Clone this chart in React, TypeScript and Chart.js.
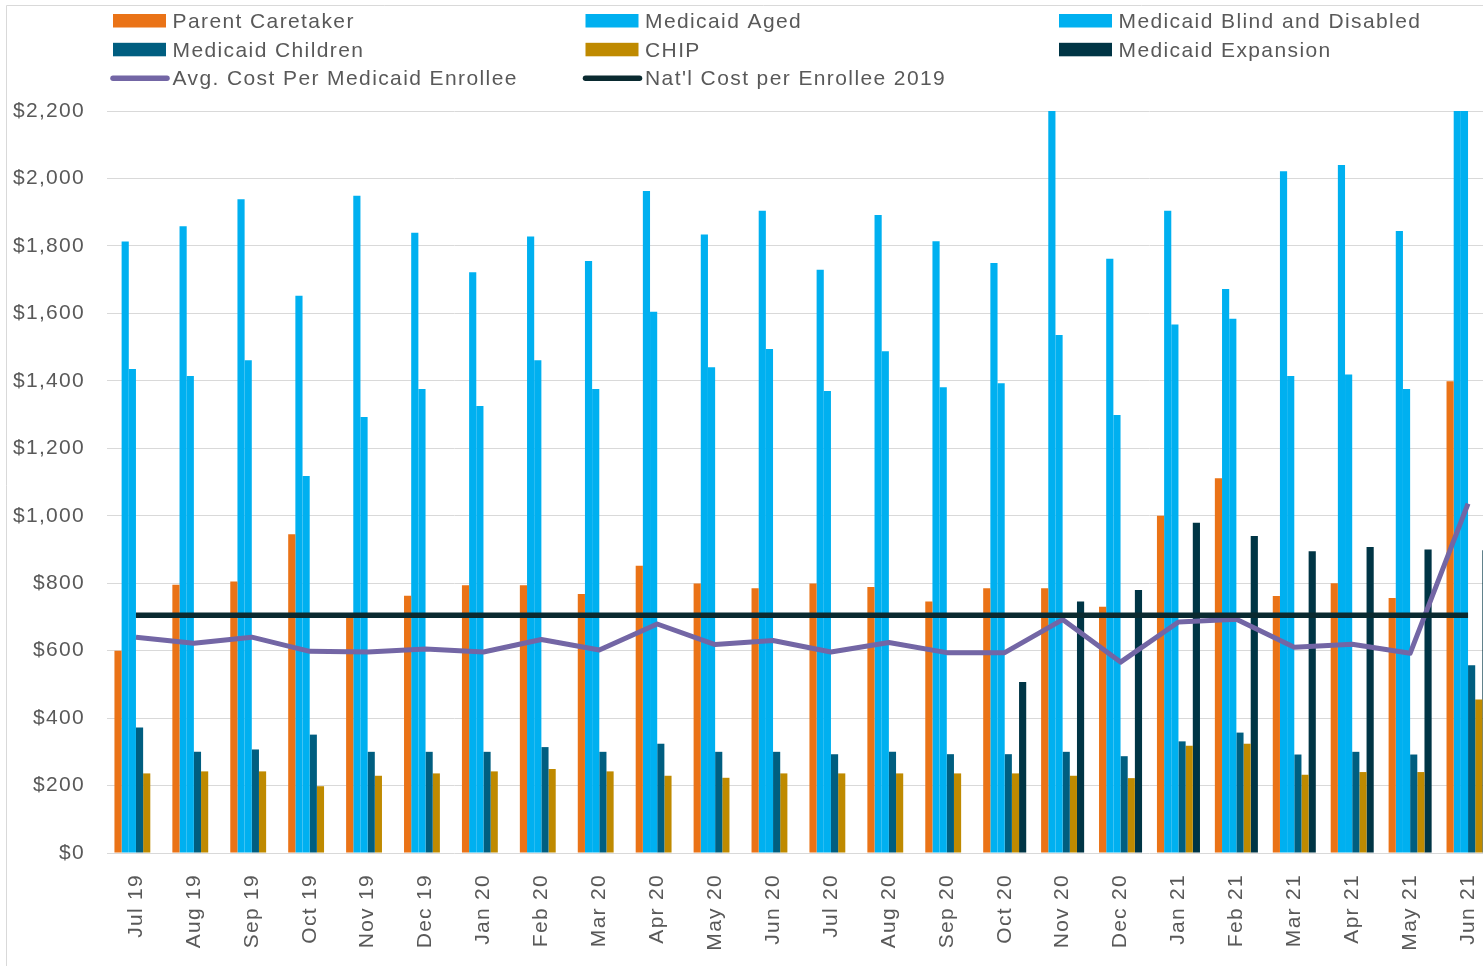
import React, { useEffect, useRef } from 'react';
import { Chart, registerables } from 'chart.js';

Chart.register(...registerables);

const categories = [
  'Jul 19', 'Aug 19', 'Sep 19', 'Oct 19', 'Nov 19', 'Dec 19',
  'Jan 20', 'Feb 20', 'Mar 20', 'Apr 20', 'May 20', 'Jun 20',
  'Jul 20', 'Aug 20', 'Sep 20', 'Oct 20', 'Nov 20', 'Dec 20',
  'Jan 21', 'Feb 21', 'Mar 21', 'Apr 21', 'May 21', 'Jun 21',
];

const parentCaretaker = [600, 795, 805, 945, 700, 763, 794, 794, 768, 852, 799, 785, 799, 789, 746, 785, 785, 730, 1000, 1111, 762, 800, 756, 1399];
const medicaidAged = [1813, 1858, 1938, 1652, 1949, 1839, 1722, 1828, 1755, 1963, 1834, 1904, 1729, 1892, 1814, 1749, 2260, 1762, 1904, 1672, 2021, 2040, 1844, 2300];
const blindDisabled = [1435, 1414, 1461, 1118, 1293, 1376, 1325, 1461, 1376, 1605, 1440, 1494, 1370, 1488, 1381, 1393, 1536, 1299, 1567, 1584, 1414, 1419, 1376, 2250];
const medicaidChildren = [372, 300, 307, 351, 300, 300, 300, 314, 300, 324, 300, 300, 293, 300, 293, 293, 300, 287, 331, 357, 292, 300, 292, 557];
const chip = [236, 242, 242, 198, 229, 236, 242, 249, 242, 229, 223, 236, 236, 236, 236, 236, 229, 222, 318, 324, 232, 240, 240, 455];
const medicaidExpansion = [null, null, null, null, null, null, null, null, null, null, null, null, null, null, null, 507, 746, 780, 979, 940, 895, 907, 900, 898];
const avgCost = [640, 622, 640, 598, 596, 605, 596, 633, 602, 679, 618, 630, 596, 624, 594, 594, 692, 566, 685, 693, 610, 619, 592, 1036];
const natlCost = [705, 705, 705, 705, 705, 705, 705, 705, 705, 705, 705, 705, 705, 705, 705, 705, 705, 705, 705, 705, 705, 705, 705, 705];

const Y_MIN = 0;
const Y_MAX = 2200;
const Y_STEP = 200;

const W = 1520;
const H = 966;
const FONT_FAMILY = '"Liberation Sans", Arial, sans-serif';
const TEXT_COLOR = '#595959';

const spacingPlugin = {
  id: 'spacing',
  beforeDraw(chart: any) {
    const ctx = chart.ctx;
    ctx.letterSpacing = '1.3px';
    ctx.save();
    ctx.strokeStyle = '#d9d9d9';
    ctx.lineWidth = 1;
    ctx.beginPath();
    ctx.moveTo(6.5, H);
    ctx.lineTo(6.5, 5.5);
    ctx.lineTo(W, 5.5);
    ctx.stroke();
    ctx.restore();
  },
};

const legendPlugin = {
  id: 'gridLegend',
  afterDraw(chart: any) {
    const ctx = chart.ctx;
    const cols = [113, 585.5, 1059];
    const rows = [20.7, 49.5, 78.3];
    chart.data.datasets.forEach((ds: any, i: number) => {
      const x0 = cols[i % 3];
      const cy = rows[Math.floor(i / 3)];
      ctx.save();
      if (ds.type === 'line') {
        ctx.strokeStyle = ds.borderColor;
        ctx.lineWidth = 5.5;
        ctx.lineCap = 'round';
        ctx.beginPath();
        ctx.moveTo(x0, cy);
        ctx.lineTo(x0 + 54, cy);
        ctx.stroke();
      } else {
        ctx.fillStyle = ds.backgroundColor;
        ctx.fillRect(x0, cy - 6.7, 53, 13.5);
      }
      ctx.letterSpacing = '1.4px';
      ctx.fillStyle = TEXT_COLOR;
      ctx.font = `21px ${FONT_FAMILY}`;
      ctx.textAlign = 'left';
      ctx.textBaseline = 'alphabetic';
      ctx.fillText(ds.label, x0 + 59.5, cy + 7);
      ctx.restore();
    });
  },
};

function barSet(label: string, data: (number | null)[], color: string) {
  return {
    type: 'bar' as const,
    label,
    data,
    backgroundColor: color,
    borderWidth: 0,
    order: 3,
    categoryPercentage: 0.743,
    barPercentage: 1.0,
  };
}

export default function App() {
  const canvasRef = useRef<HTMLCanvasElement | null>(null);

  useEffect(() => {
    if (!canvasRef.current) return;
    const font = { family: FONT_FAMILY, size: 21 };
    const chart = new Chart(canvasRef.current, {
      type: 'bar',
      data: {
        labels: categories,
        datasets: [
          barSet('Parent Caretaker', parentCaretaker, '#EA7317'),
          barSet('Medicaid Aged', medicaidAged, '#00B0F0'),
          barSet('Medicaid Blind and Disabled', blindDisabled, '#00B0F0'),
          barSet('Medicaid Children', medicaidChildren, '#005E80'),
          barSet('CHIP', chip, '#BF8A00'),
          barSet('Medicaid Expansion', medicaidExpansion, '#003545'),
          {
            type: 'line' as const,
            label: 'Avg. Cost Per Medicaid Enrollee',
            data: avgCost,
            borderColor: '#7366A5',
            backgroundColor: '#7366A5',
            borderWidth: 5,
            borderJoinStyle: 'round',
            pointRadius: 0,
            tension: 0,
            order: 1,
          },
          {
            type: 'line' as const,
            label: "Nat'l Cost per Enrollee 2019",
            data: natlCost,
            borderColor: '#0A2A30',
            backgroundColor: '#0A2A30',
            borderWidth: 5.5,
            pointRadius: 0,
            tension: 0,
            order: 0,
          },
        ] as any,
      },
      options: {
        responsive: false,
        animation: false,
        layout: { padding: { left: 0, right: W - 1497, top: 111, bottom: 0 } },
        plugins: {
          legend: { display: false },
          tooltip: { enabled: false },
        },
        scales: {
          x: {
            grid: { display: false },
            border: { display: false },
            ticks: {
              autoSkip: false,
              minRotation: 90,
              maxRotation: 90,
              padding: 13,
              font,
              color: TEXT_COLOR,
            },
            afterFit: (s: any) => {
              s.height = H - 853;
            },
          },
          y: {
            min: Y_MIN,
            max: Y_MAX,
            border: { display: false },
            grid: { color: '#d9d9d9', drawTicks: false, lineWidth: 1 },
            ticks: {
              stepSize: Y_STEP,
              padding: 22,
              font,
              color: TEXT_COLOR,
              callback: (v: any) => '$' + Number(v).toLocaleString('en-US'),
            },
            afterFit: (s: any) => {
              s.width = 107;
            },
          },
        },
      } as any,
      plugins: [spacingPlugin, legendPlugin],
    });
    return () => chart.destroy();
  }, []);

  return (
    <div
      style={{
        position: 'fixed',
        left: 0,
        top: 0,
        width: 1483,
        height: 966,
        overflow: 'hidden',
        background: '#ffffff',
      }}
    >
      <canvas ref={canvasRef} width={W} height={H} style={{ display: 'block', width: W, height: H }} />
    </div>
  );
}
